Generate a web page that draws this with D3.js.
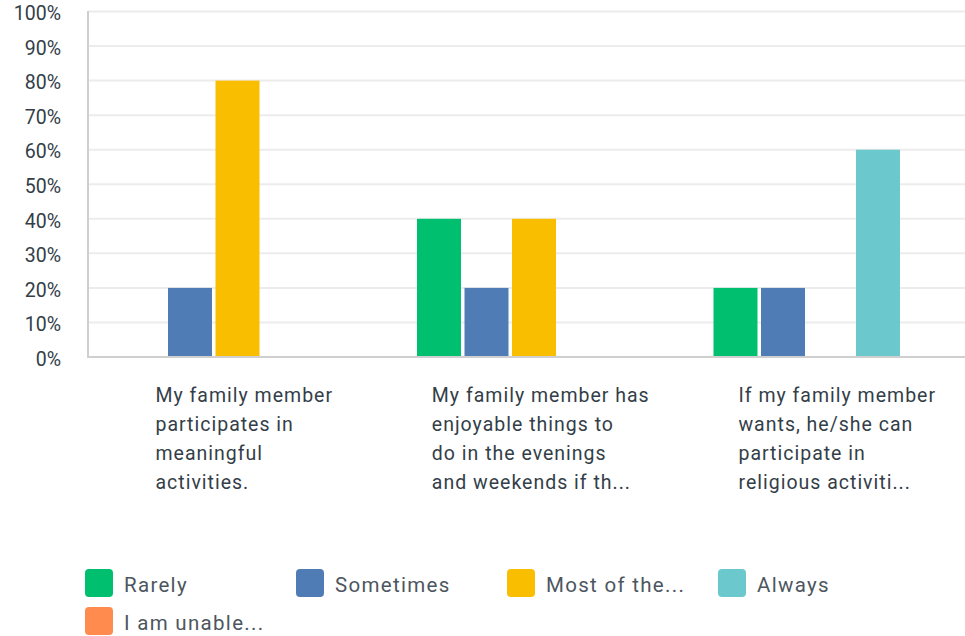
<!DOCTYPE html>
<html><head><meta charset="utf-8">
<script src="https://cdn.jsdelivr.net/npm/d3@7/dist/d3.min.js"></script>
<style>body{margin:0;background:#fff}svg{display:block}</style>
</head><body><svg id="c" width="965" height="636"></svg>
<script>
const categories = [
  ["My family member", "participates in", "meaningful", "activities."],
  ["My family member has", "enjoyable things to", "do in the evenings", "and weekends if th..."],
  ["If my family member", "wants, he/she can", "participate in", "religious activiti..."]
];
const seriesNames = ["Rarely", "Sometimes", "Most of the...", "Always", "I am unable..."];
const seriesColors = ["#00bf6f", "#507cb6", "#f9be00", "#6bc8cd", "#ff8b4f"];
const rarely    = [0, 40, 20];
const sometimes = [20, 20, 20];
const mostOf    = [80, 40, 0];
const always    = [0, 0, 60];
const unable    = [0, 0, 0];
const yTicks = [0, 10, 20, 30, 40, 50, 60, 70, 80, 90, 100];

const values = [rarely, sometimes, mostOf, always, unable];
const svg = d3.select("#c");
const font = "Roboto, sans-serif";
const axisColor = "#333e48";

const x0 = d3.scaleBand().domain(d3.range(categories.length)).range([88, 977.5]).padding(0);
const x1 = d3.scaleBand().domain(seriesNames).range([32.5, 266.5]).paddingInner(0.0737).paddingOuter(0);
const y = d3.scaleLinear().domain([0, 100]).range([357, 11.5]);

svg.append("g").selectAll("line").data(yTicks.filter(t => t > 0)).join("line")
  .attr("x1", 88).attr("x2", 965)
  .attr("y1", d => y(d)).attr("y2", d => y(d))
  .attr("stroke", "#ececec").attr("stroke-width", 2);

const yAxis = d3.axisLeft(y).tickValues(yTicks).tickFormat(d => d + "%").tickSize(0).tickPadding(27);
const gy = svg.append("g").attr("transform", "translate(88,2)").call(yAxis);
gy.select(".domain").remove();
gy.selectAll("text").attr("font-family", font).attr("font-size", 19.5).attr("fill", axisColor);

const groups = svg.append("g").selectAll("g").data(categories).join("g")
  .attr("transform", (d, i) => `translate(${x0(i)},0)`);
groups.selectAll("rect").data((d, i) => seriesNames.map((s, j) => ({s, j, v: values[j][i]})).filter(e => e.v > 0))
  .join("rect")
  .attr("x", e => x1(e.s)).attr("width", x1.bandwidth())
  .attr("y", e => y(e.v)).attr("height", e => y(0) - y(e.v))
  .attr("fill", e => seriesColors[e.j]);

svg.append("line").attr("x1", 88).attr("x2", 88).attr("y1", 11).attr("y2", 358)
  .attr("stroke", "#cfcfcf").attr("stroke-width", 2);
svg.append("line").attr("x1", 87).attr("x2", 965).attr("y1", y(0)).attr("y2", y(0))
  .attr("stroke", "#cfcfcf").attr("stroke-width", 2);

categories.forEach((lines, i) => {
  const t = svg.append("text").attr("font-family", font).attr("font-size", 19.5)
    .attr("letter-spacing", 1).attr("fill", axisColor);
  lines.forEach((ln, k) => {
    t.append("tspan").attr("x", 0).attr("y", 402 + k * 29).text(ln);
  });
  const w = t.node().getBBox().width;
  const cx = x0(i) + x0.bandwidth() / 2 + 8;
  t.attr("transform", `translate(${cx - w / 2},0)`);
});

const leg = svg.append("g");
seriesNames.forEach((s, j) => {
  const col = j % 4, row = Math.floor(j / 4);
  const gx = 85 + col * 211, gyy = 569 + row * 38;
  leg.append("rect").attr("x", gx).attr("y", gyy).attr("width", 28).attr("height", 28)
    .attr("rx", 4).attr("fill", seriesColors[j]);
  leg.append("text").attr("x", gx + 39).attr("y", gyy + 16).attr("dy", "0.35em")
    .attr("font-family", font).attr("font-size", 20.5).attr("letter-spacing", 1.3)
    .attr("fill", "#4d5660").text(s);
});
</script></body></html>
